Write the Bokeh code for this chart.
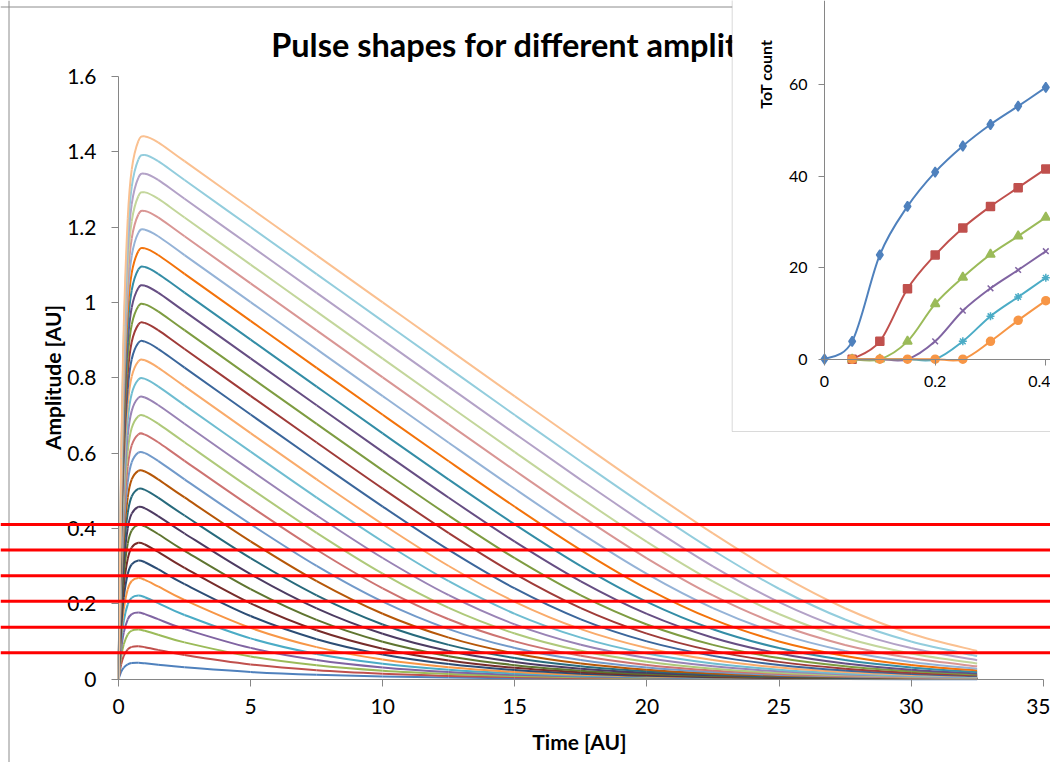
import math
from bokeh.plotting import figure
from bokeh.models import (Range1d, LinearAxis, FixedTicker, NumeralTickFormatter,
                          Span, Label, BoxAnnotation)
from bokeh.embed import file_html
from bokeh.resources import INLINE

# ---------------- data ----------------
time_au = [0, 0.1, 0.2, 0.35, 0.5, 0.75, 1.0, 1.5, 2.5, 5, 7.5, 10, 12.5,
           15, 17.5, 20, 22.5, 25, 27.5, 30, 32.5]

pulse_k01 = [0, .0195, .0309, .0395, .0429, .0436, .0423, .0386, .0316, .0192, .0117, .0071, .0043, .0026, .0016, .0010, .0006, .0004, .0002, .0001, .0001]
pulse_k02 = [0, .0389, .0618, .0791, .0859, .0876, .0851, .0779, .0642, .0391, .0238, .0145, .0088, .0053, .0032, .0020, .0012, .0007, .0004, .0003, .0002]
pulse_k03 = [0, .0584, .0928, .1189, .1292, .1320, .1285, .1181, .0978, .0603, .0368, .0223, .0136, .0082, .0050, .0030, .0018, .0011, .0007, .0004, .0002]
pulse_k04 = [0, .0779, .1237, .1587, .1727, .1769, .1727, .1594, .1332, .0832, .0510, .0311, .0189, .0115, .0069, .0042, .0026, .0016, .0009, .0006, .0003]
pulse_k05 = [0, .0974, .1547, .1987, .2165, .2224, .2177, .2021, .1706, .1083, .0669, .0409, .0249, .0151, .0092, .0056, .0034, .0020, .0012, .0008, .0005]
pulse_k06 = [0, .1169, .1858, .2389, .2607, .2684, .2636, .2463, .2103, .1363, .0852, .0522, .0318, .0193, .0117, .0071, .0043, .0026, .0016, .0010, .0006]
pulse_k07 = [0, .1364, .2169, .2793, .3052, .3153, .3106, .2922, .2524, .1677, .1063, .0657, .0401, .0244, .0148, .0090, .0054, .0033, .0020, .0012, .0007]
pulse_k08 = [0, .1559, .2480, .3196, .3498, .3621, .3576, .3380, .2955, .2015, .1299, .0810, .0496, .0302, .0184, .0111, .0068, .0041, .0025, .0015, .0009]
pulse_k09 = [0, .1754, .2792, .3603, .3948, .4097, .4057, .3856, .3409, .2390, .1574, .0993, .0612, .0373, .0227, .0138, .0084, .0051, .0031, .0019, .0011]
pulse_k10 = [0, .1949, .3105, .4009, .4397, .4572, .4538, .4332, .3869, .2788, .1881, .1205, .0748, .0458, .0279, .0169, .0103, .0062, .0038, .0023, .0014]
pulse_k11 = [0, .2144, .3418, .4417, .4851, .5053, .5026, .4820, .4346, .3216, .2228, .1454, .0912, .0561, .0342, .0208, .0126, .0077, .0046, .0028, .0017]
pulse_k12 = [0, .2340, .3731, .4826, .5304, .5534, .5514, .5308, .4826, .3660, .2605, .1739, .1105, .0684, .0418, .0254, .0154, .0094, .0057, .0034, .0021]
pulse_k13 = [0, .2535, .4044, .5234, .5757, .6016, .6002, .5796, .5308, .4117, .3008, .2058, .1331, .0830, .0509, .0310, .0188, .0114, .0069, .0042, .0026]
pulse_k14 = [0, .2731, .4358, .5645, .6213, .6500, .6494, .6291, .5799, .4588, .3438, .2413, .1592, .1005, .0620, .0377, .0229, .0140, .0085, .0051, .0031]
pulse_k15 = [0, .2927, .4672, .6055, .6669, .6985, .6987, .6785, .6291, .5066, .3886, .2802, .1892, .1213, .0753, .0461, .0280, .0170, .0103, .0063, .0038]
pulse_k16 = [0, .3122, .4986, .6465, .7125, .7469, .7479, .7280, .6784, .5551, .4350, .3218, .2231, .1456, .0913, .0562, .0342, .0208, .0126, .0077, .0047]
pulse_k17 = [0, .3318, .5300, .6877, .7582, .7955, .7974, .7777, .7279, .6042, .4823, .3657, .2602, .1736, .1104, .0682, .0418, .0253, .0154, .0094, .0057]
pulse_k18 = [0, .3514, .5615, .7288, .8039, .8442, .8468, .8274, .7776, .6534, .5305, .4115, .3006, .2055, .1329, .0829, .0508, .0309, .0188, .0114, .0069]
pulse_k19 = [0, .3710, .5930, .7699, .8496, .8928, .8963, .8772, .8273, .7028, .5794, .4584, .3434, .2410, .1590, .1004, .0619, .0377, .0229, .0140, .0085]
pulse_k20 = [0, .3906, .6244, .8111, .8953, .9414, .9457, .9269, .8769, .7523, .6284, .5060, .3881, .2798, .1889, .1211, .0752, .0460, .0280, .0170, .0103]
pulse_k21 = [0, .4102, .6560, .8523, .9411, .9901, .9953, .9767, .9268, .8021, .6778, .5546, .4345, .3214, .2228, .1454, .0912, .0561, .0342, .0208, .0126]
pulse_k22 = [0, .4298, .6875, .8935, .9869, 1.0389, 1.0448, 1.0266, .9766, .8518, .7273, .6036, .4818, .3653, .2599, .1734, .1102, .0681, .0417, .0253, .0154]
pulse_k23 = [0, .4494, .7190, .9347, 1.0327, 1.0876, 1.0944, 1.0765, 1.0265, .9017, .7770, .6528, .5300, .4110, .3002, .2052, .1327, .0828, .0507, .0309, .0188]
pulse_k24 = [0, .4691, .7505, .9760, 1.0785, 1.1363, 1.1440, 1.1264, 1.0764, .9515, .8267, .7022, .5788, .4579, .3430, .2407, .1588, .1003, .0618, .0377, .0229]
pulse_k25 = [0, .4887, .7820, 1.0172, 1.1243, 1.1851, 1.1936, 1.1762, 1.1262, 1.0013, .8764, .7518, .6279, .5056, .3877, .2795, .1887, .1209, .0751, .0459, .0280]
pulse_k26 = [0, .5082, .8135, 1.0584, 1.1701, 1.2338, 1.2431, 1.2261, 1.1761, 1.0511, .9262, .8015, .6772, .5541, .4340, .3210, .2224, .1451, .0910, .0560, .0341]
pulse_k27 = [0, .5277, .8449, 1.0996, 1.2159, 1.2825, 1.2927, 1.2759, 1.2259, 1.1010, .9760, .8512, .7267, .6030, .4813, .3648, .2595, .1731, .1100, .0680, .0416]
pulse_k28 = [0, .5473, .8764, 1.1407, 1.2616, 1.3312, 1.3422, 1.3258, 1.2758, 1.1508, 1.0258, .9010, .7763, .6521, .5294, .4104, .2997, .2048, .1324, .0826, .0506]
pulse_k29 = [0, .5668, .9078, 1.1819, 1.3074, 1.3799, 1.3918, 1.3756, 1.3256, 1.2006, 1.0757, .9508, .8260, .7015, .5781, .4572, .3424, .2402, .1584, .1000, .0616]
pulse_k30 = [0, .5863, .9393, 1.2231, 1.3532, 1.4286, 1.4413, 1.4255, 1.3755, 1.2505, 1.1255, 1.0006, .8757, .7511, .6272, .5050, .3871, .2789, .1883, .1206, .0749]

pulse_curves = [pulse_k01, pulse_k02, pulse_k03, pulse_k04, pulse_k05, pulse_k06,
                pulse_k07, pulse_k08, pulse_k09, pulse_k10, pulse_k11, pulse_k12,
                pulse_k13, pulse_k14, pulse_k15, pulse_k16, pulse_k17, pulse_k18,
                pulse_k19, pulse_k20, pulse_k21, pulse_k22, pulse_k23, pulse_k24,
                pulse_k25, pulse_k26, pulse_k27, pulse_k28, pulse_k29, pulse_k30]

time_ticks = [0, 5, 10, 15, 20, 25, 30, 35]
amp_ticks = [0, 0.2, 0.4, 0.6, 0.8, 1.0, 1.2, 1.4, 1.6]
thresholds = [0.070, 0.138, 0.207, 0.275, 0.343, 0.411]

# inset: ToT count vs threshold
tot_x = [0, 0.05, 0.1, 0.15, 0.2, 0.25, 0.3, 0.35, 0.4]
tot_s1 = [0, 3.9, 22.8, 33.4, 40.9, 46.6, 51.3, 55.3, 59.4]   # from x = 0
tot_s2 = [0, 3.9, 15.4, 22.8, 28.7, 33.4, 37.5, 41.6]         # from x = 0.05
tot_s3 = [0, 0, 3.9, 12.1, 17.9, 22.9, 26.9, 31.0]
tot_s4 = [0, 0, 0, 3.9, 10.6, 15.5, 19.5, 23.6]
tot_s5 = [0, 0, 0, 0, 3.9, 9.4, 13.6, 17.8]
tot_s6 = [0, 0, 0, 0, 0, 3.9, 8.5, 12.8]
inset_x_ticks = [0, 0.2, 0.4]
inset_y_ticks = [0, 20, 40, 60, 80]

# ---------------- styles / layout ----------------
curve_colors = ["#4F81BD", "#C0504D", "#9BBB59", "#8064A2", "#4BACC6", "#F79646",
                "#2C4D75", "#772C2A", "#5F7530", "#4D3B62", "#276A7C", "#B65708",
                "#729ACA", "#CD7371", "#AFC97A", "#9983B5", "#6FBDD1", "#F9AB6B",
                "#3B669B", "#9F3B38", "#7E9C41", "#664E83", "#348DA6", "#F3730B",
                "#95B3D7", "#D99694", "#C3D69B", "#B3A2C7", "#93CDDD", "#FAC090"]
inset_colors = ["#4F81BD", "#C0504D", "#9BBB59", "#8064A2", "#4BACC6", "#F79646"]
inset_markers = [("diamond", 10), ("square", 8), ("triangle", 9),
                 ("x", 8), ("asterisk", 8), ("circle", 8)]

W, H = 1050, 762
MX0, MXS = 118.0, 26.42      # px of t=0, px per time unit
MY0, MYS = 678.7, 376.6      # px of amplitude 0, px per amplitude unit
IX0, IXS = 824.0, 553.3      # inset
IY0, IYS = 358.7, 4.575

def X(px):
    return (px - MX0) / MXS

def Y(py):
    return (MY0 - py) / MYS

AXIS_GRAY = "#868686"
FONT = "Lato"
BLACK = "#000000"

p = figure(width=W, height=H,
           x_range=Range1d(X(0), X(W)), y_range=Range1d(Y(H), Y(0)),
           output_backend="svg", toolbar_location=None,
           x_axis_type=None, y_axis_type=None, min_border=0)
p.outline_line_color = None
p.background_fill_color = "white"
p.border_fill_color = "white"
p.extra_x_ranges = {"ix": Range1d((0 - IX0) / IXS, (W - IX0) / IXS)}
p.extra_y_ranges = {"iy": Range1d((IY0 - H) / IYS, (IY0 - 0) / IYS)}

def style_axis(ax, size, tick_out, standoff):
    ax.axis_line_color = AXIS_GRAY
    ax.axis_line_width = 1
    ax.major_tick_line_color = AXIS_GRAY
    ax.major_tick_out = tick_out
    ax.major_tick_in = 0
    ax.minor_tick_line_color = None
    ax.major_label_text_font = FONT
    ax.major_label_text_font_size = size
    ax.major_label_text_color = BLACK
    ax.major_label_standoff = standoff

def smooth(xs, ys):
    """Bezier control points for an Excel-style smoothed line through the points."""
    n = len(xs)
    seg = dict(x0=[], y0=[], x1=[], y1=[], cx0=[], cy0=[], cx1=[], cy1=[])
    for i in range(n - 1):
        xp, yp = (xs[i - 1], ys[i - 1]) if i > 0 else (xs[i], ys[i])
        xn, yn = (xs[i + 2], ys[i + 2]) if i + 2 < n else (xs[i + 1], ys[i + 1])
        seg["x0"].append(xs[i]); seg["y0"].append(ys[i])
        seg["x1"].append(xs[i + 1]); seg["y1"].append(ys[i + 1])
        seg["cx0"].append(xs[i] + (xs[i + 1] - xp) / 6)
        seg["cy0"].append(ys[i] + (ys[i + 1] - yp) / 6)
        seg["cx1"].append(xs[i + 1] - (xn - xs[i]) / 6)
        seg["cy1"].append(ys[i + 1] - (yn - ys[i]) / 6)
    return seg

# chart-area border (under the inset)
p.add_layout(Span(location=X(8.5), dimension="height", line_color="#8C8C8C",
                  line_width=1, level="underlay"))
p.add_layout(Span(location=Y(6.5), dimension="width", line_color="#8C8C8C",
                  line_width=1, level="underlay"))

# title (sits under the inset chart)
p.add_layout(Label(x=X(270.7), y=Y(44), text="Pulse shapes for different amplitudes",
                   text_font=FONT, text_font_style="bold", text_font_size="32.5px",
                   text_align="left", text_baseline="alphabetic", text_color=BLACK,
                   level="underlay"))

# main curves
for vals, col in zip(pulse_curves, curve_colors):
    p.bezier(line_color=col, line_width=2, **smooth(time_au, vals))

# main axes
xax = LinearAxis(fixed_location=0, bounds=(0, 35), ticker=FixedTicker(ticks=time_ticks))
style_axis(xax, "21px", 7, 13)
p.add_layout(xax, "below")
yax = LinearAxis(fixed_location=0, bounds=(0, 1.6), ticker=FixedTicker(ticks=amp_ticks),
                 formatter=NumeralTickFormatter(format="0.[0]"))
style_axis(yax, "21px", 7, 15)
p.add_layout(yax, "left")

p.add_layout(Label(x=X(579), y=Y(741), text="Time [AU]", text_font=FONT,
                   text_font_style="bold", text_font_size="21px", text_color=BLACK,
                   text_align="center", text_baseline="middle"))
p.add_layout(Label(x=X(52), y=Y(377), text="Amplitude [AU]", text_font=FONT,
                   text_font_style="bold", text_font_size="21px", text_color=BLACK,
                   angle=math.pi / 2, text_align="center", text_baseline="middle"))

# threshold lines
for th in thresholds:
    p.add_layout(Span(location=th, dimension="width", line_color="#FF0000", line_width=3))

# inset chart area
p.add_layout(BoxAnnotation(left=X(731.7), bottom=Y(431), right=X(W + 20), top=Y(-20),
                           fill_color="white", fill_alpha=1.0,
                           line_color=AXIS_GRAY, line_width=1, level="underlay"))

inset_series = [(tot_x, tot_s1), (tot_x[1:], tot_s2), (tot_x[1:], tot_s3),
                (tot_x[1:], tot_s4), (tot_x[1:], tot_s5), (tot_x[1:], tot_s6)]
for (xs, ys), col, (mk, sz) in zip(inset_series, inset_colors, inset_markers):
    p.bezier(line_color=col, line_width=2, x_range_name="ix", y_range_name="iy",
             **smooth(xs, ys))
    p.scatter(xs, ys, marker=mk, size=sz, fill_color=col, line_color=col,
              line_width=1.5, x_range_name="ix", y_range_name="iy")

ixax = LinearAxis(x_range_name="ix", y_range_name="iy", fixed_location=0, bounds=(0, 1),
                  ticker=FixedTicker(ticks=inset_x_ticks),
                  formatter=NumeralTickFormatter(format="0.[0]"))
style_axis(ixax, "16px", 6, 11)
p.add_layout(ixax, "below")
iyax = LinearAxis(x_range_name="ix", y_range_name="iy", fixed_location=0, bounds=(0, 100),
                  ticker=FixedTicker(ticks=inset_y_ticks))
style_axis(iyax, "16px", 6, 11)
p.add_layout(iyax, "left")

p.add_layout(Label(x=X(765.3), y=Y(73.7), text="ToT count", text_font=FONT,
                   text_font_style="bold", text_font_size="16px", text_color=BLACK,
                   angle=math.pi / 2, text_align="center", text_baseline="middle"))

open("out.html", "w").write(file_html(p, INLINE))
